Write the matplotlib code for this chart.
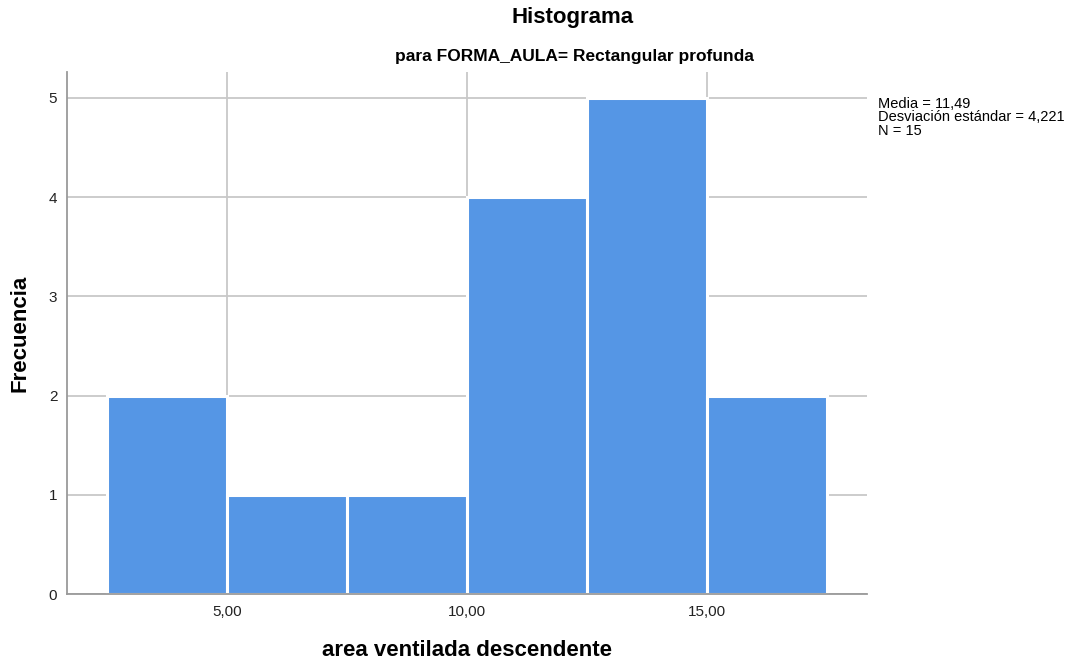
import matplotlib
matplotlib.use("Agg")
import matplotlib.pyplot as plt

# Histogram bins (left edges) and frequencies
bin_lefts = [2.5, 5.0, 7.5, 10.0, 12.5, 15.0]
bin_width = 2.5
counts = [2, 1, 1, 4, 5, 2]

x_ticks = [5.0, 10.0, 15.0]
x_tick_labels = ["5,00", "10,00", "15,00"]
y_ticks = [0, 1, 2, 3, 4, 5]

stats_lines = ["Media = 11,49", "Desviación estándar = 4,221", "N = 15"]

plt.rcParams["font.family"] = ["Liberation Sans", "DejaVu Sans"]

fig = plt.figure(figsize=(10.71, 6.61), dpi=100)
ax = fig.add_axes([67 / 1071, 1 - 594 / 661, 800 / 1071, 522 / 661])

ax.set_axisbelow(True)
ax.grid(True, color="#c8c8c8", linewidth=1.3)
ax.bar(bin_lefts, counts, width=bin_width, align="edge",
       color="#5596e5", edgecolor="white", linewidth=2.2, zorder=2)

ax.set_xlim(1.667, 18.333)
ax.set_ylim(0, 5.262)
ax.set_xticks(x_ticks)
ax.set_xticklabels(x_tick_labels)
ax.set_yticks(y_ticks)
ax.tick_params(length=0, labelsize=11, colors="#222222", pad=8)
ax.tick_params(axis="y", pad=7)

for side in ("top", "right"):
    ax.spines[side].set_visible(False)
for side in ("left", "bottom"):
    ax.spines[side].set_color("#9a9a9a")
    ax.spines[side].set_linewidth(1.3)

ax.set_xlabel("area ventilada descendente", fontsize=16, fontweight="bold")
ax.set_ylabel("Frecuencia", fontsize=16, fontweight="bold")
ax.xaxis.set_label_coords(0.5, (594 - 650) / 522)
ax.xaxis.label.set_va("center")
ax.yaxis.set_label_coords((20 - 67) / 800, 0.5)
ax.yaxis.label.set_va("center")

fig.text(573 / 1071, 1 - 18 / 661, "Histograma", fontsize=16, fontweight="bold",
         ha="center", va="center")
fig.text(574 / 1071, 1 - 57 / 661, "para FORMA_AULA= Rectangular profunda",
         fontsize=12.5, fontweight="bold", ha="center", va="center")

fig.text(878 / 1071, 1 - 97 / 661, "\n".join(stats_lines), fontsize=10.5,
         ha="left", va="top", linespacing=0.95)

fig.savefig("out.png", dpi=100, facecolor="white")
